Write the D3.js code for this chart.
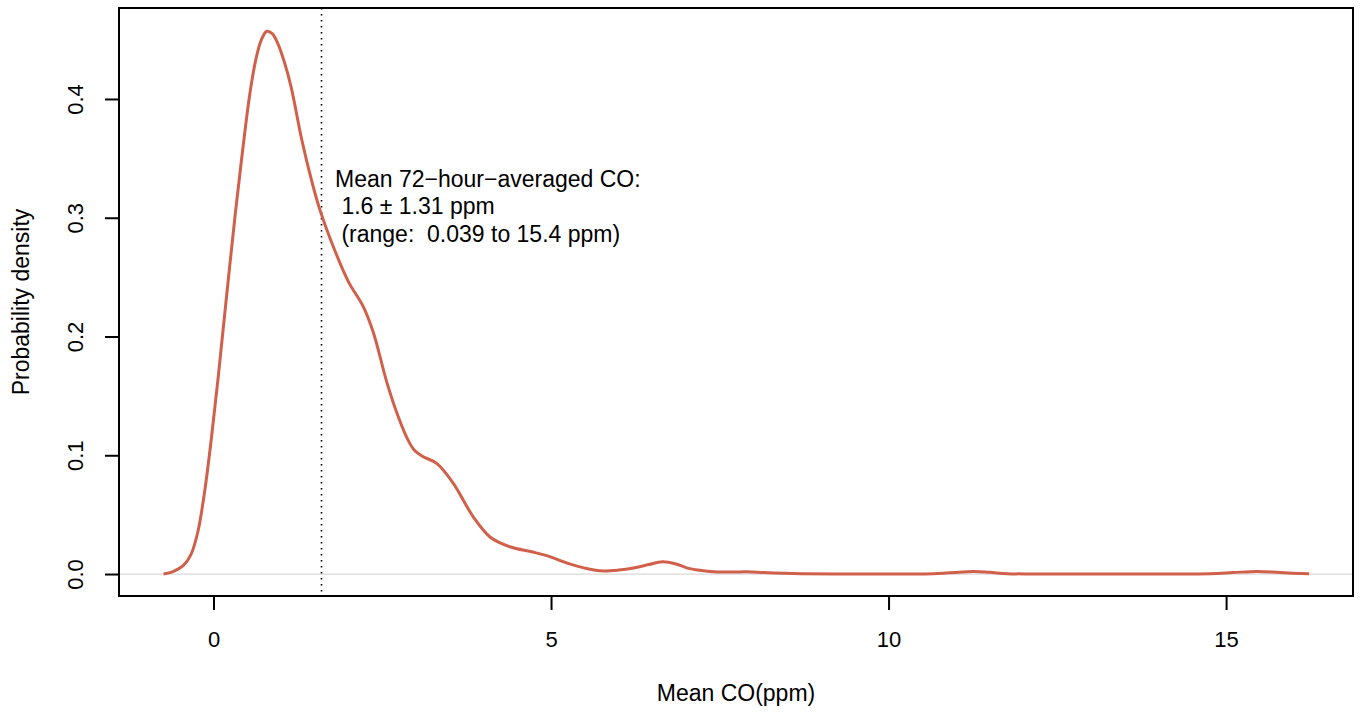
<!DOCTYPE html>
<html>
<head>
<meta charset="utf-8">
<script src="https://cdn.jsdelivr.net/npm/d3@7"></script>
<style>
  body { margin: 0; background: #fff; }
  text { font-family: "Liberation Sans", Arial, sans-serif; fill: #000; }
</style>
</head>
<body>
<div id="chart"></div>
<script>
// density estimate
var coValues = [-0.74, -0.6, -0.45, -0.33, -0.23, -0.13, -0.03, 0.07, 0.19, 0.32, 0.43, 0.54, 0.63,
    0.71, 0.79, 0.87, 0.95, 1.05, 1.15, 1.31, 1.45, 1.58, 1.8, 2.0, 2.22, 2.37, 2.57, 2.74, 2.88,
    2.98, 3.1, 3.31, 3.55, 3.85, 4.1, 4.39, 4.73, 4.99, 5.24, 5.5, 5.73, 6.0, 6.22, 6.45, 6.65,
    6.85, 7.02, 7.25, 7.46, 7.7, 7.9, 8.15, 8.44, 8.7, 9.5, 10.3, 10.66, 11.0, 11.25, 11.5, 11.76,
    12.2, 13.0, 14.0, 14.77, 15.1, 15.46, 15.8, 16.23];
var densityValues = [0, 0.002, 0.007, 0.017, 0.036, 0.070, 0.115, 0.166, 0.232, 0.302, 0.356, 0.405,
    0.434, 0.450, 0.457, 0.455, 0.447, 0.431, 0.41, 0.365, 0.332, 0.306, 0.272, 0.246, 0.225,
    0.203, 0.161, 0.132, 0.113, 0.104, 0.099, 0.093, 0.0766, 0.048, 0.031, 0.023, 0.0185, 0.0145,
    0.0092, 0.005, 0.0027, 0.0033, 0.005, 0.008, 0.0103, 0.0085, 0.005, 0.0028, 0.0017, 0.0017,
    0.0019, 0.0013, 0.0006, 0.0002, 0.0001, 0.0001, 0.0003, 0.0012, 0.0022, 0.0014, 0.0003,
    0.0001, 0.0001, 0.0001, 0.0003, 0.0012, 0.0022, 0.0012, 0.0002];
var xTicks = [0, 5, 10, 15];
var yTicks = [0, 0.1, 0.2, 0.3, 0.4];
var yTickLabels = ["0.0", "0.1", "0.2", "0.3", "0.4"];
var meanCO = 1.6;
var noteLines = ["Mean 72\u2212hour\u2212averaged CO:", " 1.6 \u00b1 1.31 ppm", " (range:  0.039 to 15.4 ppm)"];

var width = 1362;
var height = 713;
var margin = { top: 8, right: 9, bottom: 117, left: 119 };
var color = "#d1604a";

var svg = d3.select("#chart")
    .append("svg")
    .attr("width", width)
    .attr("height", height);

var x = d3.scaleLinear()
    .domain([-1.40, 16.88])
    .range([margin.left, width - margin.right]);

var y = d3.scaleLinear()
    .domain([-0.0185, 0.4766])
    .range([height - margin.bottom, margin.top]);

var data = coValues.map(function (v, i) {
    return { x: v, d: densityValues[i] };
});

// zero line
svg.append("line")
    .attr("x1", margin.left).attr("x2", width - margin.right)
    .attr("y1", y(0)).attr("y2", y(0))
    .attr("stroke", "#d9d9d9")
    .attr("stroke-width", 1.2);

// mean line
svg.append("line")
    .attr("x1", x(meanCO)).attr("x2", x(meanCO))
    .attr("y1", margin.top).attr("y2", height - margin.bottom - 3)
    .attr("stroke", "#000")
    .attr("stroke-width", 1.6)
    .attr("stroke-dasharray", "1.5,4.5");

var line = d3.line()
    .x(function (d) { return x(d.x); })
    .y(function (d) { return y(d.d); })
    .curve(d3.curveCatmullRom.alpha(0.5));

svg.append("path")
    .datum(data)
    .attr("d", line)
    .attr("fill", "none")
    .attr("stroke", color)
    .attr("stroke-width", 3);

// box
svg.append("rect")
    .attr("x", margin.left).attr("y", margin.top)
    .attr("width", width - margin.left - margin.right)
    .attr("height", height - margin.top - margin.bottom)
    .attr("fill", "none")
    .attr("stroke", "#000")
    .attr("stroke-width", 2);

var xAxis = svg.append("g")
    .attr("transform", "translate(0," + (height - margin.bottom) + ")")
    .call(d3.axisBottom(x).tickValues(xTicks).tickSize(14).tickFormat(d3.format("d")));
xAxis.select(".domain").remove();
xAxis.selectAll(".tick line").attr("stroke-width", 2);
xAxis.selectAll(".tick text")
    .attr("y", 51).attr("dy", 0)
    .style("font-size", "22px")
    .style("font-family", "Liberation Sans, Arial, sans-serif");

var yAxis = svg.append("g")
    .attr("transform", "translate(" + margin.left + ",0)")
    .call(d3.axisLeft(y).tickValues(yTicks).tickSize(14)
        .tickFormat(function (d, i) { return yTickLabels[i]; }));
yAxis.select(".domain").remove();
yAxis.selectAll(".tick line").attr("stroke-width", 2);
yAxis.selectAll(".tick text")
    .attr("x", 0).attr("y", 0).attr("dy", 0)
    .attr("text-anchor", "middle")
    .attr("transform", "translate(-36,0) rotate(-90)")
    .style("font-size", "22px")
    .style("font-family", "Liberation Sans, Arial, sans-serif");

// axis titles
svg.append("text")
    .attr("x", (margin.left + width - margin.right) / 2)
    .attr("y", 701)
    .attr("text-anchor", "middle")
    .style("font-size", "23px")
    .text("Mean CO(ppm)");

svg.append("text")
    .attr("transform", "translate(28.5," + (margin.top + height - margin.bottom) / 2 + ") rotate(-90)")
    .attr("text-anchor", "middle")
    .style("font-size", "23px")
    .text("Probability density");

// annotation
var note = svg.append("text")
    .attr("x", x(1.8))
    .attr("y", 187)
    .style("font-size", "23px")
    .style("white-space", "pre");
note.selectAll("tspan")
    .data(noteLines)
    .enter()
    .append("tspan")
    .attr("x", x(1.8))
    .attr("dy", function (d, i) { return i === 0 ? 0 : 27.3; })
    .text(function (d) { return d; });
</script>
</body>
</html>
